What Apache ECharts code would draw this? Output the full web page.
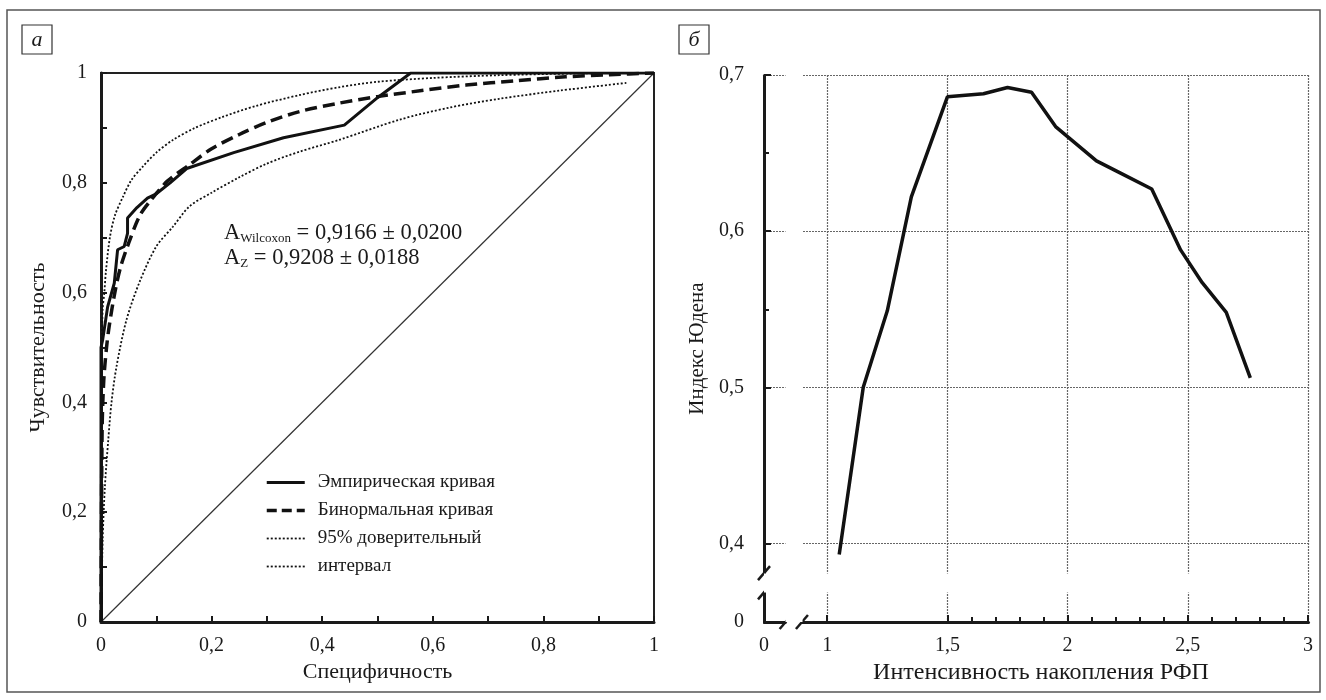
<!DOCTYPE html>
<html>
<head>
<meta charset="utf-8">
<script src="https://cdn.jsdelivr.net/npm/echarts@6/dist/echarts.min.js"></script>
<style>
  html, body { margin: 0; padding: 0; background: #fff; }
  #chart { width: 1326px; height: 700px; }
</style>
</head>
<body>
<div id="chart"></div>
<script>
// ---- ROC panel (а): false-positive fraction vs sensitivity ----
const empX = [0, 0, 0.003, 0.012, 0.024, 0.03, 0.042, 0.048, 0.048, 0.065, 0.084, 0.1, 0.125, 0.155, 0.24, 0.33, 0.44, 0.5, 0.56, 1];
const empY = [0, 0.5, 0.514, 0.574, 0.617, 0.678, 0.684, 0.708, 0.736, 0.755, 0.772, 0.78, 0.8, 0.826, 0.855, 0.882, 0.905, 0.955, 1, 1];

const binX = [0, 0.002, 0.005, 0.01, 0.015, 0.025, 0.035, 0.05, 0.07, 0.09, 0.12, 0.16, 0.2, 0.25, 0.3, 0.36, 0.43, 0.5, 0.58, 0.66, 0.75, 0.84, 0.92, 1];
const binY = [0, 0.35, 0.44, 0.5, 0.54, 0.6, 0.645, 0.69, 0.74, 0.768, 0.803, 0.833, 0.862, 0.888, 0.91, 0.93, 0.945, 0.957, 0.968, 0.978, 0.986, 0.993, 0.997, 1];

const ciUpX = [0, 0.003, 0.006, 0.009, 0.016, 0.025, 0.04, 0.055, 0.076, 0.1, 0.13, 0.17, 0.22, 0.28, 0.36, 0.43, 0.5, 0.6, 0.72, 0.85, 0.92];
const ciUpY = [0.45, 0.57, 0.6, 0.64, 0.7, 0.74, 0.775, 0.805, 0.83, 0.855, 0.878, 0.9, 0.92, 0.94, 0.96, 0.974, 0.984, 0.991, 0.996, 0.999, 1];

const ciLoX = [0, 0.003, 0.007, 0.013, 0.019, 0.028, 0.046, 0.07, 0.1, 0.13, 0.16, 0.2, 0.25, 0.3, 0.36, 0.43, 0.54, 0.63, 0.72, 0.83, 0.95];
const ciLoY = [0, 0.15, 0.246, 0.33, 0.4, 0.465, 0.55, 0.62, 0.684, 0.72, 0.757, 0.782, 0.81, 0.835, 0.857, 0.878, 0.915, 0.937, 0.953, 0.968, 0.982];

const chanceX = [0, 1];
const chanceY = [0, 1];

const rocNames = ['Эмпирическая кривая', 'Бинормальная кривая', '95% доверительный', 'интервал'];
const aucLines = [
  ['A', 'Wilcoxon', ' = 0,9166 ± 0,0200'],
  ['A', 'Z', ' = 0,9208 ± 0,0188']
];

// ---- Youden index panel (б) ----
const uptake = [1.05, 1.15, 1.25, 1.35, 1.5, 1.65, 1.75, 1.85, 1.95, 2.12, 2.21, 2.35, 2.47, 2.56, 2.66, 2.76];
const youden = [0.393, 0.5, 0.549, 0.622, 0.686, 0.688, 0.692, 0.689, 0.667, 0.645, 0.638, 0.627, 0.588, 0.567, 0.548, 0.506];
const uptakeTicks = [0, 1, 1.5, 2, 2.5, 3];
const youdenTicks = [0, 0.4, 0.5, 0.6, 0.7];

const FONT = 'Liberation Serif';
const INK = '#1a1a1a';
const comma = v => String(+v.toFixed(2)).replace('.', ',');

function pairs(xs, ys) { return xs.map((x, i) => [x, ys[i]]); }

const chart = echarts.init(document.getElementById('chart'), null, { renderer: 'canvas' });

const labelStyle = { color: INK, fontFamily: FONT, fontSize: 20 };
const nameStyle = size => ({ color: INK, fontFamily: FONT, fontSize: size });
const gridDots = { show: true, lineStyle: { color: '#666', width: 1.2, type: [2, 1] } };
const whiteBreak = { show: true, itemStyle: { color: '#fff', borderWidth: 0, opacity: 1 }, zigzagAmplitude: 0, expandOnClick: false };
const ciLine = { color: '#111', width: 1.8, type: [2, 2] };

const option = {
  backgroundColor: '#fff',
  animation: false,
  grid: [
    { left: 101, top: 73, width: 553, height: 549, show: true, borderColor: '#222', borderWidth: 2, backgroundColor: 'transparent' },
    { left: 764, top: 75, width: 544, height: 547 }
  ],
  xAxis: [
    {
      gridIndex: 0, type: 'value', min: 0, max: 1, interval: 0.2,
      name: 'Специфичность', nameLocation: 'middle', nameGap: 36, nameTextStyle: nameStyle(22),
      axisLine: { lineStyle: { color: INK, width: 3 } },
      axisTick: { inside: true, length: 6, lineStyle: { color: INK, width: 2 } },
      minorTick: { show: true, splitNumber: 2, length: 6, lineStyle: { color: INK, width: 2 } },
      splitLine: { show: false },
      axisLabel: Object.assign({ margin: 14, formatter: comma }, labelStyle)
    },
    {
      gridIndex: 1, type: 'value', min: 0, max: 3, interval: 0.5,
      breaks: [{ start: 0.09, end: 0.895, gap: '3%' }],
      breakArea: whiteBreak,
      name: 'Интенсивность накопления РФП', nameLocation: 'middle', nameGap: 34,
      nameTextStyle: Object.assign(nameStyle(24), { padding: [0, 0, 0, 10] }),
      axisLine: { lineStyle: { color: INK, width: 3 } },
      axisTick: { inside: true, length: 7, customValues: uptakeTicks.slice(1), lineStyle: { color: INK, width: 2 } },
      minorTick: { show: true, splitNumber: 5, length: 5, lineStyle: { color: INK, width: 2 } },
      splitLine: gridDots,
      axisLabel: Object.assign({ margin: 14, customValues: uptakeTicks, formatter: comma }, labelStyle)
    }
  ],
  yAxis: [
    {
      gridIndex: 0, type: 'value', min: 0, max: 1, interval: 0.2,
      name: 'Чувствительность', nameLocation: 'middle', nameGap: 52, nameTextStyle: nameStyle(22),
      axisLine: { lineStyle: { color: INK, width: 3 } },
      axisTick: { inside: true, length: 6, lineStyle: { color: INK, width: 2 } },
      minorTick: { show: true, splitNumber: 2, length: 6, lineStyle: { color: INK, width: 2 } },
      splitLine: { show: false },
      axisLabel: Object.assign({ margin: 14, formatter: comma }, labelStyle)
    },
    {
      gridIndex: 1, type: 'value', min: 0, max: 0.7, interval: 0.1,
      breaks: [{ start: 0.019, end: 0.381, gap: '3.5%' }],
      breakArea: whiteBreak,
      name: 'Индекс Юдена', nameLocation: 'middle', nameGap: 56, nameTextStyle: nameStyle(21),
      axisLine: { lineStyle: { color: INK, width: 3 } },
      axisTick: { inside: true, length: 7, customValues: youdenTicks.slice(1), lineStyle: { color: INK, width: 2 } },
      minorTick: { show: true, splitNumber: 2, length: 5, lineStyle: { color: INK, width: 2 } },
      splitLine: gridDots,
      axisLabel: Object.assign({ margin: 20, customValues: youdenTicks, formatter: comma }, labelStyle)
    }
  ],
  legend: {
    data: rocNames.map((n, i) => ({
      name: n,
      lineStyle: i === 0 ? { width: 3, type: 'solid', color: '#111' }
        : i === 1 ? { width: 3.5, type: [10, 5], color: '#111' }
        : { width: 1.8, type: [2, 2], color: '#111' }
    })),
    orient: 'vertical', left: 260, top: 468,
    itemWidth: 38, itemHeight: 14, itemGap: 9,
    itemStyle: { opacity: 0, borderWidth: 0 },
    textStyle: { color: INK, fontFamily: FONT, fontSize: 19, padding: [0, 0, 0, 8] },
    selectedMode: false
  },
  series: [
    {
      type: 'line', xAxisIndex: 0, yAxisIndex: 0, data: pairs(chanceX, chanceY),
      symbol: 'none', silent: true, lineStyle: { color: '#333', width: 1.2 }, z: 1
    },
    {
      name: rocNames[2], type: 'line', xAxisIndex: 0, yAxisIndex: 0, data: pairs(ciUpX, ciUpY),
      symbol: 'none', smooth: 0.3, lineStyle: ciLine, itemStyle: { color: '#111' }, z: 2
    },
    {
      name: rocNames[3], type: 'line', xAxisIndex: 0, yAxisIndex: 0, data: pairs(ciLoX, ciLoY),
      symbol: 'none', smooth: 0.3, lineStyle: ciLine, itemStyle: { color: '#111' }, z: 2
    },
    {
      name: rocNames[1], type: 'line', xAxisIndex: 0, yAxisIndex: 0, data: pairs(binX, binY),
      symbol: 'none', smooth: 0.3, lineStyle: { color: '#111', width: 3.5, type: [12, 6] }, itemStyle: { color: '#111' }, z: 3
    },
    {
      name: rocNames[0], type: 'line', xAxisIndex: 0, yAxisIndex: 0, data: pairs(empX, empY),
      symbol: 'none', lineStyle: { color: '#111', width: 3 }, itemStyle: { color: '#111' }, z: 4
    },
    {
      type: 'line', xAxisIndex: 1, yAxisIndex: 1, data: pairs(uptake, youden),
      symbol: 'none', lineStyle: { color: '#111', width: 3.5 }, itemStyle: { color: '#111' }, z: 4
    }
  ]
};

chart.setOption(option);

// Panel frame, panel letters, AUC note and axis-break slashes
function buildGraphics() {
  const g = [];
  g.push({ type: 'rect', shape: { x: 7, y: 10, width: 1313, height: 682 }, style: { fill: 'none', stroke: '#555', lineWidth: 1.5 }, silent: true });
  [['а', 22], ['б', 679]].forEach(([t, x]) => {
    g.push({ type: 'rect', shape: { x: x, y: 25, width: 30, height: 29 }, style: { fill: '#fff', stroke: '#333', lineWidth: 1.2 } });
    g.push({ type: 'text', x: x + 15, y: 40, style: { text: t, fontFamily: FONT, fontStyle: 'italic', fontSize: 22, fill: INK, align: 'center', verticalAlign: 'middle' } });
  });
  aucLines.forEach((ln, i) => {
    g.push({
      type: 'text', x: 224, y: 222 + i * 25,
      style: {
        text: '{a|' + ln[0] + '}{s|' + ln[1] + '}{a|' + ln[2] + '}',
        rich: {
          a: { fontFamily: FONT, fontSize: 22.5, fill: INK, color: INK },
          s: { fontFamily: FONT, fontSize: 13, fill: INK, color: INK, verticalAlign: 'bottom', padding: [6, 0, 0, 0] }
        }
      }
    });
  });
  // break slashes on both axes of panel б
  const xb = option.xAxis[1].breaks[0];
  const yb = option.yAxis[1].breaks[0];
  const px0 = chart.convertToPixel({ gridIndex: 1 }, [xb.start, 0]);
  const px1 = chart.convertToPixel({ gridIndex: 1 }, [xb.end, 0]);
  const py0 = chart.convertToPixel({ gridIndex: 1 }, [0, yb.start]);
  const py1 = chart.convertToPixel({ gridIndex: 1 }, [0, yb.end]);
  g.push({ type: 'rect', shape: { x: px0[0] + 1, y: px0[1] - 3, width: px1[0] - px0[0] - 2, height: 6 }, style: { fill: '#fff' }, z: 50 });
  g.push({ type: 'rect', shape: { x: py0[0] - 3, y: py1[1] + 1, width: 6, height: py0[1] - py1[1] - 2 }, style: { fill: '#fff' }, z: 50 });
  [px0, px1].forEach(p => g.push({ type: 'line', shape: { x1: p[0] - 6, y1: p[1] + 7, x2: p[0] + 6, y2: p[1] - 7 }, style: { stroke: INK, lineWidth: 2.5 }, z: 51 }));
  [py0, py1].forEach(p => g.push({ type: 'line', shape: { x1: p[0] - 6, y1: p[1] + 7, x2: p[0] + 6, y2: p[1] - 7 }, style: { stroke: INK, lineWidth: 2.5 }, z: 51 }));
  return g;
}
chart.setOption({ graphic: buildGraphics() });
</script>
</body>
</html>
